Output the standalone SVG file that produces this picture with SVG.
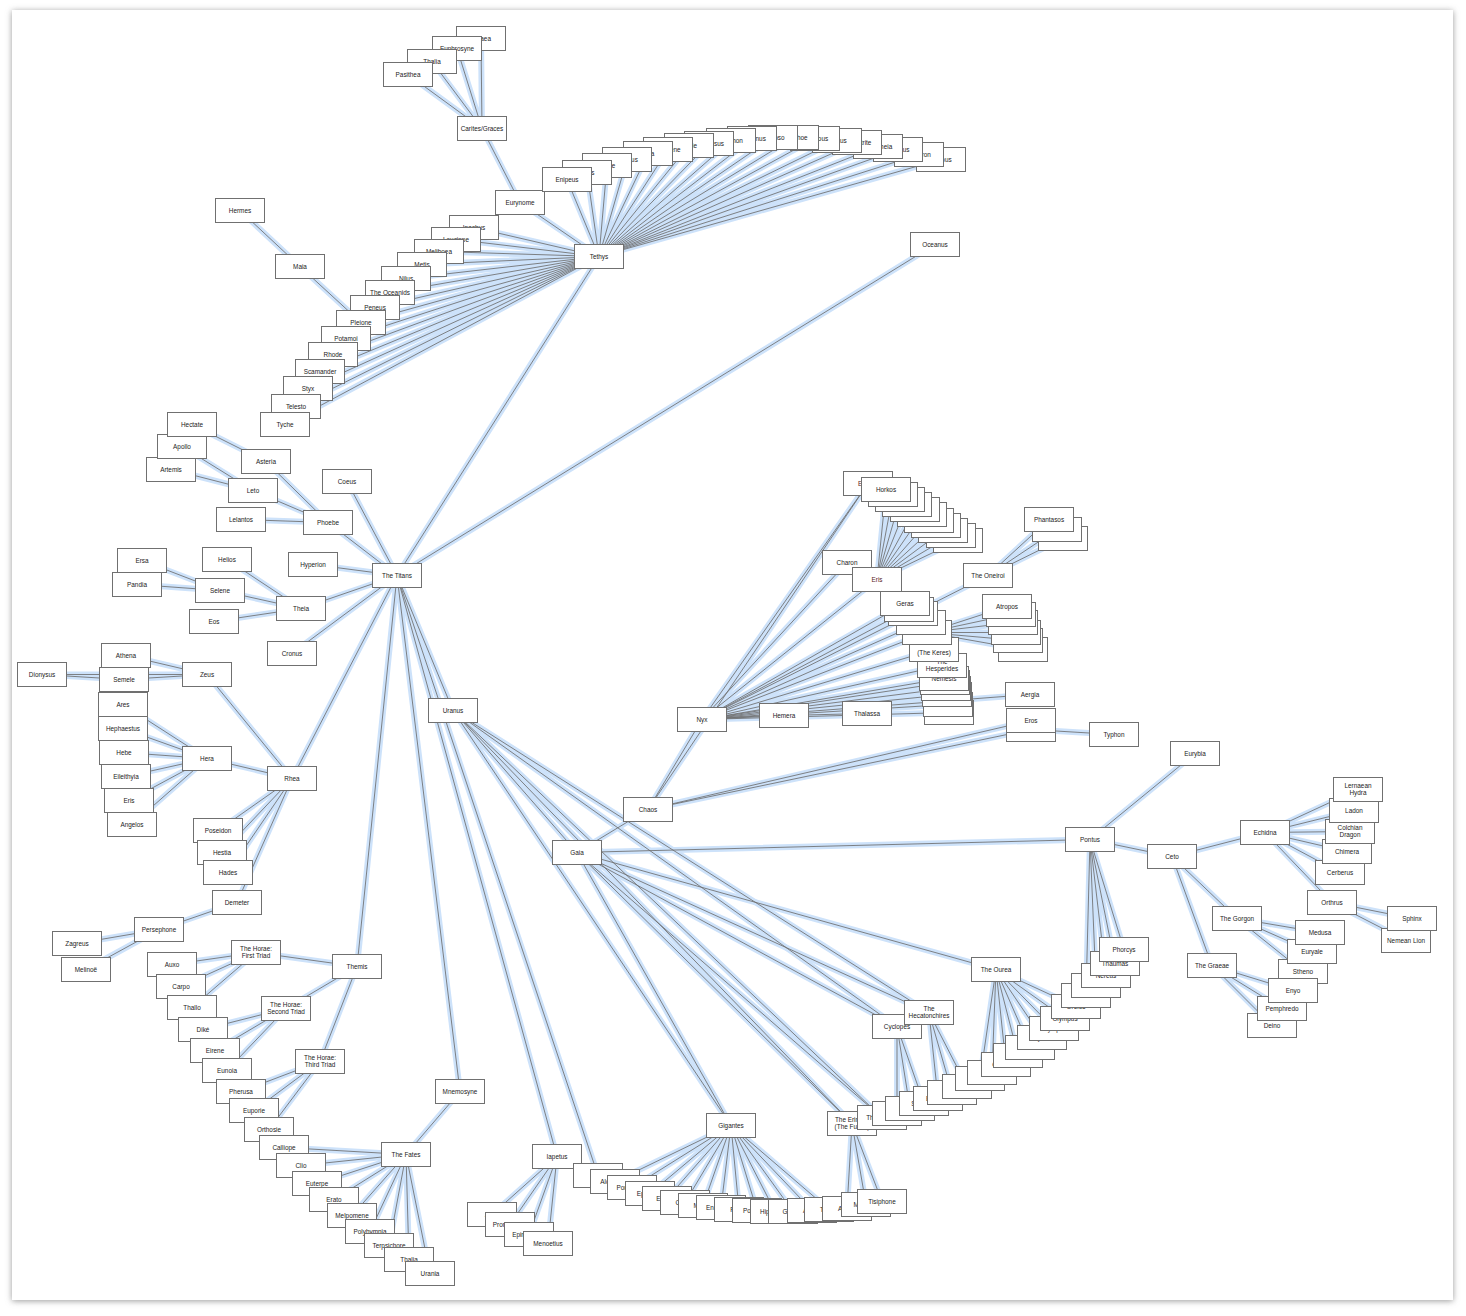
<svg xmlns="http://www.w3.org/2000/svg" xmlns:xlink="http://www.w3.org/1999/xlink" width="1466" height="1316" viewBox="0 0 1466 1316">
<style>
.n text{font-family:"Liberation Sans",Arial,sans-serif;font-size:6.4px;fill:#222;text-anchor:middle}
</style>
<defs>
<filter id="sh" x="-5%" y="-5%" width="110%" height="110%"><feGaussianBlur stdDeviation="3"/></filter>
<rect id="b" x="0.5" y="0.5" width="49" height="24" fill="#fff" stroke="#707070" stroke-width="1"/>
</defs>
<rect x="0" y="0" width="1466" height="1316" fill="#fff"/>
<rect x="12" y="11" width="1441" height="1290" fill="#9a9a9a" filter="url(#sh)"/>
<rect x="12" y="10" width="1441" height="1290" fill="#fff"/>

<g id="connectors" fill="none" stroke="#cde2fa" stroke-width="6" stroke-linecap="round">
<g id="L">
<path d="M482 128.5L481 38.5M482 128.5L457 48.5M482 128.5L432 61.5M482 128.5L408 74.5M482 128.5L520 202.5"/>
<path d="M520 202.5L599 256.5M240 210.5L300 266.5M300 266.5L361 322.5"/>
<path d="M599 256.5L567 179.5M599 256.5L587 172.5M599 256.5L607 165.5M599 256.5L627 159.5M599 256.5L648 153.5M599 256.5L668 149.5M599 256.5L689 145.5M599 256.5L709 143.5M599 256.5L731 140.5M599 256.5L752 138.5M599 256.5L773 137.5M599 256.5L794 137.5M599 256.5L815 138.5M599 256.5L837 140.5M599 256.5L857 142.5M599 256.5L878 146.5M599 256.5L898 149.5M599 256.5L919 154.5M599 256.5L941 159.5"/>
<path d="M599 256.5L474 227.5M599 256.5L456 239.5M599 256.5L439 251.5M599 256.5L422 264.5M599 256.5L406 278.5M599 256.5L390 292.5M599 256.5L375 307.5M599 256.5L361 322.5M599 256.5L346 338.5M599 256.5L333 354.5M599 256.5L320 371.5M599 256.5L308 388.5M599 256.5L296 406.5M599 256.5L285 424.5"/>
<path d="M599 256.5L397 575.5M935 244.5L397 575.5"/>
<path d="M397 575.5L347 481.5M397 575.5L328 522.5M397 575.5L313 564.5M397 575.5L301 608.5M397 575.5L292 653.5M397 575.5L292 778.5M397 575.5L357 966.5M397 575.5L460 1091.5M397 575.5L557 1156.5M397 575.5L598 1175.5M397 575.5L453 710.5"/>
<path d="M328 522.5L266 461.5M328 522.5L253 490.5M328 522.5L241 519.5M253 490.5L182 446.5M253 490.5L171 469.5M266 461.5L192 424.5"/>
<path d="M301 608.5L227 559.5M301 608.5L220 590.5M301 608.5L214 621.5M220 590.5L142 560.5M220 590.5L137 584.5"/>
<path d="M292 778.5L207 674.5M292 778.5L207 758.5M292 778.5L218 830.5M292 778.5L222 852.5M292 778.5L228 872.5M292 778.5L237 902.5"/>
<path d="M207 674.5L126 655.5M207 674.5L124 679.5M207 674.5L42 674.5M124 679.5L42 674.5"/>
<path d="M207 758.5L123 704.5M207 758.5L123 728.5M207 758.5L124 752.5M207 758.5L126 776.5M207 758.5L129 800.5M207 758.5L132 824.5"/>
<path d="M237 902.5L159 929.5M159 929.5L77 943.5M159 929.5L86 969.5"/>
<path d="M357 966.5L256 952.5M357 966.5L286 1008.5M357 966.5L320 1061.5M256 952.5L172 964.5M256 952.5L181 986.5M256 952.5L192 1007.5M286 1008.5L203 1029.5M286 1008.5L215 1050.5M286 1008.5L227 1070.5M320 1061.5L241 1091.5M320 1061.5L254 1110.5M320 1061.5L269 1129.5"/>
<path d="M460 1091.5L406 1154.5M406 1154.5L284 1147.5M406 1154.5L301 1165.5M406 1154.5L317 1183.5M406 1154.5L334 1199.5M406 1154.5L352 1215.5M406 1154.5L370 1231.5M406 1154.5L389 1245.5M406 1154.5L409 1259.5M406 1154.5L430 1273.5"/>
<path d="M557 1156.5L492 1214.5M557 1156.5L510 1224.5M557 1156.5L529 1234.5M557 1156.5L548 1243.5"/>
<path d="M731 1125.5L615 1181.5M731 1125.5L632 1187.5M731 1125.5L650 1193.5M731 1125.5L667 1198.5M731 1125.5L685 1202.5M731 1125.5L703 1205.5M731 1125.5L721 1207.5M731 1125.5L739 1209.5M731 1125.5L757 1210.5M731 1125.5L775 1211.5M731 1125.5L793 1211.5M731 1125.5L812 1210.5M731 1125.5L829 1209.5"/>
<path d="M852 1123.5L847 1208.5M852 1123.5L866 1204.5M852 1123.5L882 1201.5"/>
<path d="M453 710.5L577 852.5M453 710.5L897 1026.5M453 710.5L929 1012.5M453 710.5L852 1123.5M453 710.5L882 1117.5M453 710.5L731 1125.5"/>
<path d="M577 852.5L648 809.5M577 852.5L1090 839.5M577 852.5L996 969.5M577 852.5L897 1026.5M577 852.5L929 1012.5M577 852.5L852 1123.5M577 852.5L882 1117.5M577 852.5L731 1125.5"/>
<path d="M897 1026.5L924 1103.5M897 1026.5L910 1108.5M897 1026.5L897 1113.5M929 1012.5L967 1086.5M929 1012.5L952 1092.5M929 1012.5L938 1098.5"/>
<path d="M996 969.5L1076 1006.5M996 969.5L1065 1018.5M996 969.5L1054 1028.5M996 969.5L1042 1037.5M996 969.5L1030 1047.5M996 969.5L1018 1055.5M996 969.5L1006 1064.5M996 969.5L992 1072.5M996 969.5L980 1078.5"/>
<path d="M1090 839.5L1124 949.5M1090 839.5L1115 963.5M1090 839.5L1106 975.5M1090 839.5L1096 985.5M1090 839.5L1086 995.5M1090 839.5L1195 753.5M1090 839.5L1172 856.5"/>
<path d="M1172 856.5L1265 832.5M1172 856.5L1237 918.5M1172 856.5L1212 965.5"/>
<path d="M1265 832.5L1358 789.5M1265 832.5L1354 810.5M1265 832.5L1350 831.5M1265 832.5L1347 851.5M1265 832.5L1340 872.5M1265 832.5L1332 902.5M1332 902.5L1412 918.5M1332 902.5L1406 940.5"/>
<path d="M1237 918.5L1320 932.5M1237 918.5L1312 951.5M1237 918.5L1303 971.5M1212 965.5L1293 990.5M1212 965.5L1282 1008.5M1212 965.5L1272 1025.5"/>
<path d="M648 809.5L702 719.5M648 809.5L868 483.5M648 809.5L1031 720.5M648 809.5L1031 729.5M1031 729.5L1114 734.5"/>
<path d="M702 719.5L868 483.5M702 719.5L847 562.5M702 719.5L877 579.5M702 719.5L905 603.5M702 719.5L909 609.5M702 719.5L913 613.5M702 719.5L921 622.5M702 719.5L927 632.5M702 719.5L934 649.5M702 719.5L942 665.5M702 719.5L944 678.5M702 719.5L945 682.5M702 719.5L946 688.5M702 719.5L947 694.5M702 719.5L948 704.5M702 719.5L949 712.5M702 719.5L784 715.5M702 719.5L1030 694.5M784 715.5L867 713.5"/>
<path d="M877 579.5L886 489.5M877 579.5L893 494.5M877 579.5L900 499.5M877 579.5L907 504.5M877 579.5L915 509.5M877 579.5L922 514.5M877 579.5L929 520.5M877 579.5L936 525.5M877 579.5L943 530.5M877 579.5L951 535.5M877 579.5L958 540.5"/>
<path d="M927 632.5L1007 606.5M927 632.5L1011 614.5M927 632.5L1013 622.5M927 632.5L1016 632.5M927 632.5L1018 640.5M927 632.5L1023 649.5"/>
<path d="M988 575.5L1049 519.5M988 575.5L1057 529.5M988 575.5L1063 538.5M988 575.5L913 613.5"/>
</g>
<use xlink:href="#L" href="#L" stroke="#6e6e6e" stroke-width="0.85"/>
</g>

<g id="nodes">
<g id="n-aglaea" class="n" transform="translate(456 26)"><use href="#b" xlink:href="#b"/><text x="25" y="14.8">Aglaea</text></g>
<g id="n-euphrosyne" class="n" transform="translate(432 36)"><use href="#b" xlink:href="#b"/><text x="25" y="14.8">Euphrosyne</text></g>
<g id="n-thalia-grace" class="n" transform="translate(407 49)"><use href="#b" xlink:href="#b"/><text x="25" y="14.8">Thalia</text></g>
<g id="n-pasithea" class="n" transform="translate(383 62)"><use href="#b" xlink:href="#b"/><text x="25" y="14.8">Pasithea</text></g>
<g id="n-charites" class="n" transform="translate(457 116)"><use href="#b" xlink:href="#b"/><text x="25" y="14.8">Carites/Graces</text></g>
<g id="n-eurynome" class="n" transform="translate(495 190)"><use href="#b" xlink:href="#b"/><text x="25" y="14.8">Eurynome</text></g>
<g id="n-hermes" class="n" transform="translate(215 198)"><use href="#b" xlink:href="#b"/><text x="25" y="14.8">Hermes</text></g>
<g id="n-maia" class="n" transform="translate(275 254)"><use href="#b" xlink:href="#b"/><text x="25" y="14.8">Maia</text></g>
<g id="n-tethys" class="n" transform="translate(574 244)"><use href="#b" xlink:href="#b"/><text x="25" y="14.8">Tethys</text></g>
<g id="n-oceanus" class="n" transform="translate(910 232)"><use href="#b" xlink:href="#b"/><text x="25" y="14.8">Oceanus</text></g>

<g id="n-asopus" class="n" transform="translate(916 147)"><use href="#b" xlink:href="#b"/><text x="25" y="14.8">Asopus</text></g>
<g id="n-acheron" class="n" transform="translate(894 142)"><use href="#b" xlink:href="#b"/><text x="25" y="14.8">Acheron</text></g>
<g id="n-alpheus" class="n" transform="translate(873 137)"><use href="#b" xlink:href="#b"/><text x="25" y="14.8">Alpheus</text></g>
<g id="n-amaltheia" class="n" transform="translate(853 134)"><use href="#b" xlink:href="#b"/><text x="25" y="14.8">Amaltheia</text></g>
<g id="n-amphitrite" class="n" transform="translate(832 130)"><use href="#b" xlink:href="#b"/><text x="25" y="14.8">Amphitrite</text></g>
<g id="n-caicus" class="n" transform="translate(812 128)"><use href="#b" xlink:href="#b"/><text x="25" y="14.8">Caicus</text></g>
<g id="n-achelous" class="n" transform="translate(790 126)"><use href="#b" xlink:href="#b"/><text x="25" y="14.8">Achelous</text></g>
<g id="n-callirrhoe" class="n" transform="translate(769 125)"><use href="#b" xlink:href="#b"/><text x="25" y="14.8">Callirrhoe</text></g>
<g id="n-calypso" class="n" transform="translate(748 125)"><use href="#b" xlink:href="#b"/><text x="25" y="14.8">Calypso</text></g>
<g id="n-cebrenus" class="n" transform="translate(727 126)"><use href="#b" xlink:href="#b"/><text x="25" y="14.8">Cebrenus</text></g>
<g id="n-strymon" class="n" transform="translate(706 128)"><use href="#b" xlink:href="#b"/><text x="25" y="14.8">Strymon</text></g>
<g id="n-cephissus" class="n" transform="translate(684 131)"><use href="#b" xlink:href="#b"/><text x="25" y="14.8">Cephissus</text></g>
<g id="n-clytie" class="n" transform="translate(664 133)"><use href="#b" xlink:href="#b"/><text x="25" y="14.8">Clytie</text></g>
<g id="n-clymene" class="n" transform="translate(643 137)"><use href="#b" xlink:href="#b"/><text x="25" y="14.8">Clymene</text></g>
<g id="n-asia" class="n" transform="translate(623 141)"><use href="#b" xlink:href="#b"/><text x="25" y="14.8">Asia</text></g>
<g id="n-cydnus" class="n" transform="translate(602 147)"><use href="#b" xlink:href="#b"/><text x="25" y="14.8">Cydnus</text></g>
<g id="n-dione" class="n" transform="translate(582 153)"><use href="#b" xlink:href="#b"/><text x="25" y="14.8">Dione</text></g>
<g id="n-doris" class="n" transform="translate(562 160)"><use href="#b" xlink:href="#b"/><text x="25" y="14.8">Doris</text></g>
<g id="n-enipeus" class="n" transform="translate(542 167)"><use href="#b" xlink:href="#b"/><text x="25" y="14.8">Enipeus</text></g>

<g id="n-inachus" class="n" transform="translate(449 215)"><use href="#b" xlink:href="#b"/><text x="25" y="14.8">Inachus</text></g>
<g id="n-leucippe" class="n" transform="translate(431 227)"><use href="#b" xlink:href="#b"/><text x="25" y="14.8">Leucippe</text></g>
<g id="n-meliboea" class="n" transform="translate(414 239)"><use href="#b" xlink:href="#b"/><text x="25" y="14.8">Meliboea</text></g>
<g id="n-metis" class="n" transform="translate(397 252)"><use href="#b" xlink:href="#b"/><text x="25" y="14.8">Metis</text></g>
<g id="n-nilus" class="n" transform="translate(381 266)"><use href="#b" xlink:href="#b"/><text x="25" y="14.8">Nilus</text></g>
<g id="n-oceanids" class="n" transform="translate(365 280)"><use href="#b" xlink:href="#b"/><text x="25" y="14.8">The Oceanids</text></g>
<g id="n-peneus" class="n" transform="translate(350 295)"><use href="#b" xlink:href="#b"/><text x="25" y="14.8">Peneus</text></g>
<g id="n-pleione" class="n" transform="translate(336 310)"><use href="#b" xlink:href="#b"/><text x="25" y="14.8">Pleione</text></g>
<g id="n-potamoi" class="n" transform="translate(321 326)"><use href="#b" xlink:href="#b"/><text x="25" y="14.8">Potamoi</text></g>
<g id="n-rhode" class="n" transform="translate(308 342)"><use href="#b" xlink:href="#b"/><text x="25" y="14.8">Rhode</text></g>
<g id="n-scamander" class="n" transform="translate(295 359)"><use href="#b" xlink:href="#b"/><text x="25" y="14.8">Scamander</text></g>
<g id="n-styx" class="n" transform="translate(283 376)"><use href="#b" xlink:href="#b"/><text x="25" y="14.8">Styx</text></g>
<g id="n-telesto" class="n" transform="translate(271 394)"><use href="#b" xlink:href="#b"/><text x="25" y="14.8">Telesto</text></g>
<g id="n-tyche" class="n" transform="translate(260 412)"><use href="#b" xlink:href="#b"/><text x="25" y="14.8">Tyche</text></g>

<g id="n-artemis" class="n" transform="translate(146 457)"><use href="#b" xlink:href="#b"/><text x="25" y="14.8">Artemis</text></g>
<g id="n-apollo" class="n" transform="translate(157 434)"><use href="#b" xlink:href="#b"/><text x="25" y="14.8">Apollo</text></g>
<g id="n-hectate" class="n" transform="translate(167 412)"><use href="#b" xlink:href="#b"/><text x="25" y="14.8">Hectate</text></g>
<g id="n-asteria" class="n" transform="translate(241 449)"><use href="#b" xlink:href="#b"/><text x="25" y="14.8">Asteria</text></g>
<g id="n-leto" class="n" transform="translate(228 478)"><use href="#b" xlink:href="#b"/><text x="25" y="14.8">Leto</text></g>
<g id="n-coeus" class="n" transform="translate(322 469)"><use href="#b" xlink:href="#b"/><text x="25" y="14.8">Coeus</text></g>
<g id="n-lelantos" class="n" transform="translate(216 507)"><use href="#b" xlink:href="#b"/><text x="25" y="14.8">Lelantos</text></g>
<g id="n-phoebe" class="n" transform="translate(303 510)"><use href="#b" xlink:href="#b"/><text x="25" y="14.8">Phoebe</text></g>
<g id="n-erse" class="n" transform="translate(117 548)"><use href="#b" xlink:href="#b"/><text x="25" y="14.8">Ersa</text></g>
<g id="n-pandia" class="n" transform="translate(112 572)"><use href="#b" xlink:href="#b"/><text x="25" y="14.8">Pandia</text></g>
<g id="n-helios" class="n" transform="translate(202 547)"><use href="#b" xlink:href="#b"/><text x="25" y="14.8">Helios</text></g>
<g id="n-hyperion" class="n" transform="translate(288 552)"><use href="#b" xlink:href="#b"/><text x="25" y="14.8">Hyperion</text></g>
<g id="n-titans" class="n" transform="translate(372 563)"><use href="#b" xlink:href="#b"/><text x="25" y="14.8">The Titans</text></g>
<g id="n-selene" class="n" transform="translate(195 578)"><use href="#b" xlink:href="#b"/><text x="25" y="14.8">Selene</text></g>
<g id="n-theia" class="n" transform="translate(276 596)"><use href="#b" xlink:href="#b"/><text x="25" y="14.8">Theia</text></g>
<g id="n-eos" class="n" transform="translate(189 609)"><use href="#b" xlink:href="#b"/><text x="25" y="14.8">Eos</text></g>
<g id="n-cronus" class="n" transform="translate(267 641)"><use href="#b" xlink:href="#b"/><text x="25" y="14.8">Cronus</text></g>

<g id="n-dionysus" class="n" transform="translate(17 662)"><use href="#b" xlink:href="#b"/><text x="25" y="14.8">Dionysus</text></g>
<g id="n-athena" class="n" transform="translate(101 643)"><use href="#b" xlink:href="#b"/><text x="25" y="14.8">Athena</text></g>
<g id="n-semele" class="n" transform="translate(99 667)"><use href="#b" xlink:href="#b"/><text x="25" y="14.8">Semele</text></g>
<g id="n-zeus" class="n" transform="translate(182 662)"><use href="#b" xlink:href="#b"/><text x="25" y="14.8">Zeus</text></g>
<g id="n-ares" class="n" transform="translate(98 692)"><use href="#b" xlink:href="#b"/><text x="25" y="14.8">Ares</text></g>
<g id="n-hephaestus" class="n" transform="translate(98 716)"><use href="#b" xlink:href="#b"/><text x="25" y="14.8">Hephaestus</text></g>
<g id="n-hebe" class="n" transform="translate(99 740)"><use href="#b" xlink:href="#b"/><text x="25" y="14.8">Hebe</text></g>
<g id="n-eileithyia" class="n" transform="translate(101 764)"><use href="#b" xlink:href="#b"/><text x="25" y="14.8">Eileithyia</text></g>
<g id="n-eris-hera" class="n" transform="translate(104 788)"><use href="#b" xlink:href="#b"/><text x="25" y="14.8">Eris</text></g>
<g id="n-angelos" class="n" transform="translate(107 812)"><use href="#b" xlink:href="#b"/><text x="25" y="14.8">Angelos</text></g>
<g id="n-hera" class="n" transform="translate(182 746)"><use href="#b" xlink:href="#b"/><text x="25" y="14.8">Hera</text></g>
<g id="n-rhea" class="n" transform="translate(267 766)"><use href="#b" xlink:href="#b"/><text x="25" y="14.8">Rhea</text></g>
<g id="n-poseidon" class="n" transform="translate(193 818)"><use href="#b" xlink:href="#b"/><text x="25" y="14.8">Poseidon</text></g>
<g id="n-hestia" class="n" transform="translate(197 840)"><use href="#b" xlink:href="#b"/><text x="25" y="14.8">Hestia</text></g>
<g id="n-hades" class="n" transform="translate(203 860)"><use href="#b" xlink:href="#b"/><text x="25" y="14.8">Hades</text></g>
<g id="n-demeter" class="n" transform="translate(212 890)"><use href="#b" xlink:href="#b"/><text x="25" y="14.8">Demeter</text></g>
<g id="n-persephone" class="n" transform="translate(134 917)"><use href="#b" xlink:href="#b"/><text x="25" y="14.8">Persephone</text></g>
<g id="n-zagreus" class="n" transform="translate(52 931)"><use href="#b" xlink:href="#b"/><text x="25" y="14.8">Zagreus</text></g>
<g id="n-melinoe" class="n" transform="translate(61 957)"><use href="#b" xlink:href="#b"/><text x="25" y="14.8">Melinoë</text></g>

<g id="n-horae1" class="n" transform="translate(231 940)"><use href="#b" xlink:href="#b"/><text x="25" y="10.5">The Horae:<tspan x="25" dy="7.6">First Triad</tspan></text></g>
<g id="n-auxo" class="n" transform="translate(147 952)"><use href="#b" xlink:href="#b"/><text x="25" y="14.8">Auxo</text></g>
<g id="n-carpo" class="n" transform="translate(156 974)"><use href="#b" xlink:href="#b"/><text x="25" y="14.8">Carpo</text></g>
<g id="n-thallo" class="n" transform="translate(167 995)"><use href="#b" xlink:href="#b"/><text x="25" y="14.8">Thallo</text></g>
<g id="n-themis" class="n" transform="translate(332 954)"><use href="#b" xlink:href="#b"/><text x="25" y="14.8">Themis</text></g>
<g id="n-horae2" class="n" transform="translate(261 996)"><use href="#b" xlink:href="#b"/><text x="25" y="10.5">The Horae:<tspan x="25" dy="7.6">Second Triad</tspan></text></g>
<g id="n-dike" class="n" transform="translate(178 1017)"><use href="#b" xlink:href="#b"/><text x="25" y="14.8">Diké</text></g>
<g id="n-eirene" class="n" transform="translate(190 1038)"><use href="#b" xlink:href="#b"/><text x="25" y="14.8">Eirene</text></g>
<g id="n-eunoia" class="n" transform="translate(202 1058)"><use href="#b" xlink:href="#b"/><text x="25" y="14.8">Eunoia</text></g>
<g id="n-horae3" class="n" transform="translate(295 1049)"><use href="#b" xlink:href="#b"/><text x="25" y="10.5">The Horae:<tspan x="25" dy="7.6">Third Triad</tspan></text></g>
<g id="n-pherusa" class="n" transform="translate(216 1079)"><use href="#b" xlink:href="#b"/><text x="25" y="14.8">Pherusa</text></g>
<g id="n-euporie" class="n" transform="translate(229 1098)"><use href="#b" xlink:href="#b"/><text x="25" y="14.8">Euporie</text></g>
<g id="n-orthosie" class="n" transform="translate(244 1117)"><use href="#b" xlink:href="#b"/><text x="25" y="14.8">Orthosie</text></g>
<g id="n-calliope" class="n" transform="translate(259 1135)"><use href="#b" xlink:href="#b"/><text x="25" y="14.8">Calliope</text></g>
<g id="n-fates" class="n" transform="translate(381 1142)"><use href="#b" xlink:href="#b"/><text x="25" y="14.8">The Fates</text></g>
<g id="n-clio" class="n" transform="translate(276 1153)"><use href="#b" xlink:href="#b"/><text x="25" y="14.8">Clio</text></g>
<g id="n-euterpe" class="n" transform="translate(292 1171)"><use href="#b" xlink:href="#b"/><text x="25" y="14.8">Euterpe</text></g>
<g id="n-erato" class="n" transform="translate(309 1187)"><use href="#b" xlink:href="#b"/><text x="25" y="14.8">Erato</text></g>
<g id="n-melpomene" class="n" transform="translate(327 1203)"><use href="#b" xlink:href="#b"/><text x="25" y="14.8">Melpomene</text></g>
<g id="n-polyhymnia" class="n" transform="translate(345 1219)"><use href="#b" xlink:href="#b"/><text x="25" y="14.8">Polyhymnia</text></g>
<g id="n-terpsichore" class="n" transform="translate(364 1233)"><use href="#b" xlink:href="#b"/><text x="25" y="14.8">Terpsichore</text></g>
<g id="n-thalia-muse" class="n" transform="translate(384 1247)"><use href="#b" xlink:href="#b"/><text x="25" y="14.8">Thalia</text></g>
<g id="n-urania" class="n" transform="translate(405 1261)"><use href="#b" xlink:href="#b"/><text x="25" y="14.8">Urania</text></g>
<g id="n-mnemosyne" class="n" transform="translate(435 1079)"><use href="#b" xlink:href="#b"/><text x="25" y="14.8">Mnemosyne</text></g>

<g id="n-uranus" class="n" transform="translate(428 698)"><use href="#b" xlink:href="#b"/><text x="25" y="14.8">Uranus</text></g>
<g id="n-iapetus" class="n" transform="translate(532 1144)"><use href="#b" xlink:href="#b"/><text x="25" y="14.8">Iapetus</text></g>
<g id="n-atlas" class="n" transform="translate(467 1202)"><use href="#b" xlink:href="#b"/><text x="25" y="14.8">Atlas</text></g>
<g id="n-prometheus" class="n" transform="translate(485 1212)"><use href="#b" xlink:href="#b"/><text x="25" y="14.8">Prometheus</text></g>
<g id="n-epimetheus" class="n" transform="translate(504 1222)"><use href="#b" xlink:href="#b"/><text x="25" y="14.8">Epimetheus</text></g>
<g id="n-menoetius" class="n" transform="translate(523 1231)"><use href="#b" xlink:href="#b"/><text x="25" y="14.8">Menoetius</text></g>
<g id="n-crius" class="n" transform="translate(573 1163)"><use href="#b" xlink:href="#b"/><text x="25" y="14.8">Crius</text></g>
<g id="n-alcyoneus" class="n" transform="translate(590 1169)"><use href="#b" xlink:href="#b"/><text x="25" y="14.8">Alcyoneus</text></g>
<g id="n-porphyrion" class="n" transform="translate(607 1175)"><use href="#b" xlink:href="#b"/><text x="25" y="14.8">Porphyrion</text></g>
<g id="n-ephialtes" class="n" transform="translate(625 1181)"><use href="#b" xlink:href="#b"/><text x="25" y="14.8">Ephialtes</text></g>
<g id="n-eurytus" class="n" transform="translate(642 1186)"><use href="#b" xlink:href="#b"/><text x="25" y="14.8">Eurytus</text></g>
<g id="n-clytius" class="n" transform="translate(660 1190)"><use href="#b" xlink:href="#b"/><text x="25" y="14.8">Clytius</text></g>
<g id="n-mimas" class="n" transform="translate(678 1193)"><use href="#b" xlink:href="#b"/><text x="25" y="14.8">Mimas</text></g>
<g id="n-enceladus" class="n" transform="translate(696 1195)"><use href="#b" xlink:href="#b"/><text x="25" y="14.8">Enceladus</text></g>
<g id="n-pallas" class="n" transform="translate(714 1197)"><use href="#b" xlink:href="#b"/><text x="25" y="14.8">Pallas</text></g>
<g id="n-polybotes" class="n" transform="translate(732 1198)"><use href="#b" xlink:href="#b"/><text x="25" y="14.8">Polybotes</text></g>
<g id="n-hippolytus" class="n" transform="translate(750 1199)"><use href="#b" xlink:href="#b"/><text x="25" y="14.8">Hippolytus</text></g>
<g id="n-gration" class="n" transform="translate(768 1199)"><use href="#b" xlink:href="#b"/><text x="25" y="14.8">Gration</text></g>
<g id="n-agrius" class="n" transform="translate(787 1198)"><use href="#b" xlink:href="#b"/><text x="25" y="14.8">Agrius</text></g>
<g id="n-thoon" class="n" transform="translate(804 1197)"><use href="#b" xlink:href="#b"/><text x="25" y="14.8">Thoon</text></g>
<g id="n-alecto" class="n" transform="translate(822 1196)"><use href="#b" xlink:href="#b"/><text x="25" y="14.8">Alecto</text></g>
<g id="n-megaera" class="n" transform="translate(841 1192)"><use href="#b" xlink:href="#b"/><text x="25" y="14.8">Megaera</text></g>
<g id="n-tisiphone" class="n" transform="translate(857 1189)"><use href="#b" xlink:href="#b"/><text x="25" y="14.8">Tisiphone</text></g>
<g id="n-gigantes" class="n" transform="translate(706 1113)"><use href="#b" xlink:href="#b"/><text x="25" y="14.8">Gigantes</text></g>

<g id="n-erinyes" class="n" transform="translate(827 1111)"><use href="#b" xlink:href="#b"/><text x="25" y="10.5">The Erinyes<tspan x="25" dy="7.6">(The Furies)</tspan></text></g>
<g id="n-meliae" class="n" transform="translate(857 1105)"><use href="#b" xlink:href="#b"/><text x="25" y="14.8">The Meliae</text></g>
<g id="n-arges" class="n" transform="translate(872 1101)"><use href="#b" xlink:href="#b"/><text x="25" y="14.8">Arges</text></g>
<g id="n-brontes" class="n" transform="translate(885 1096)"><use href="#b" xlink:href="#b"/><text x="25" y="14.8">Brontes</text></g>
<g id="n-steropes" class="n" transform="translate(899 1091)"><use href="#b" xlink:href="#b"/><text x="25" y="14.8">Steropes</text></g>
<g id="n-briareus" class="n" transform="translate(913 1086)"><use href="#b" xlink:href="#b"/><text x="25" y="14.8">Briareus</text></g>
<g id="n-cottus" class="n" transform="translate(927 1080)"><use href="#b" xlink:href="#b"/><text x="25" y="14.8">Cottus</text></g>
<g id="n-gyges" class="n" transform="translate(942 1074)"><use href="#b" xlink:href="#b"/><text x="25" y="14.8">Gyges</text></g>
<g id="n-aetna" class="n" transform="translate(955 1066)"><use href="#b" xlink:href="#b"/><text x="25" y="14.8">Aetna</text></g>
<g id="n-athos" class="n" transform="translate(967 1060)"><use href="#b" xlink:href="#b"/><text x="25" y="14.8">Athos</text></g>
<g id="n-cithaeron" class="n" transform="translate(981 1052)"><use href="#b" xlink:href="#b"/><text x="25" y="14.8">Cithaeron</text></g>
<g id="n-helicon" class="n" transform="translate(993 1043)"><use href="#b" xlink:href="#b"/><text x="25" y="14.8">Helicon</text></g>
<g id="n-ida" class="n" transform="translate(1005 1035)"><use href="#b" xlink:href="#b"/><text x="25" y="14.8">Ida</text></g>
<g id="n-nysos" class="n" transform="translate(1017 1025)"><use href="#b" xlink:href="#b"/><text x="25" y="14.8">Nysos</text></g>
<g id="n-olympus2" class="n" transform="translate(1029 1016)"><use href="#b" xlink:href="#b"/><text x="25" y="14.8">Olympus</text></g>
<g id="n-olympus1" class="n" transform="translate(1040 1006)"><use href="#b" xlink:href="#b"/><text x="25" y="14.8">Olympus</text></g>
<g id="n-oreios" class="n" transform="translate(1051 994)"><use href="#b" xlink:href="#b"/><text x="25" y="14.8">Oreios</text></g>
<g id="n-parnes" class="n" transform="translate(1061 983)"><use href="#b" xlink:href="#b"/><text x="25" y="14.8">Parnes</text></g>
<g id="n-tmolus" class="n" transform="translate(1071 973)"><use href="#b" xlink:href="#b"/><text x="25" y="14.8">Tmolus</text></g>
<g id="n-nereus" class="n" transform="translate(1081 963)"><use href="#b" xlink:href="#b"/><text x="25" y="14.8">Nereus</text></g>
<g id="n-thaumas" class="n" transform="translate(1090 951)"><use href="#b" xlink:href="#b"/><text x="25" y="14.8">Thaumas</text></g>
<g id="n-phorcys" class="n" transform="translate(1099 937)"><use href="#b" xlink:href="#b"/><text x="25" y="14.8">Phorcys</text></g>
<g id="n-cyclopes" class="n" transform="translate(872 1014)"><use href="#b" xlink:href="#b"/><text x="25" y="14.8">Cyclopes</text></g>
<g id="n-hecatonchires" class="n" transform="translate(904 1000)"><use href="#b" xlink:href="#b"/><text x="25" y="10.5">The<tspan x="25" dy="7.6">Hecatonchires</tspan></text></g>
<g id="n-ourea" class="n" transform="translate(971 957)"><use href="#b" xlink:href="#b"/><text x="25" y="14.8">The Ourea</text></g>

<g id="n-erebus" class="n" transform="translate(843 471)"><use href="#b" xlink:href="#b"/><text x="25" y="14.8" style="fill:#5a1a1a">Erebus</text></g>
<g id="n-eris-c10" class="n" transform="translate(933 528)"><use href="#b" xlink:href="#b"/></g>
<g id="n-eris-c9" class="n" transform="translate(926 523)"><use href="#b" xlink:href="#b"/></g>
<g id="n-eris-c8" class="n" transform="translate(918 518)"><use href="#b" xlink:href="#b"/></g>
<g id="n-eris-c7" class="n" transform="translate(911 513)"><use href="#b" xlink:href="#b"/></g>
<g id="n-eris-c6" class="n" transform="translate(904 508)"><use href="#b" xlink:href="#b"/></g>
<g id="n-eris-c5" class="n" transform="translate(897 502)"><use href="#b" xlink:href="#b"/></g>
<g id="n-eris-c4" class="n" transform="translate(890 497)"><use href="#b" xlink:href="#b"/></g>
<g id="n-eris-c3" class="n" transform="translate(882 492)"><use href="#b" xlink:href="#b"/></g>
<g id="n-eris-c2" class="n" transform="translate(875 487)"><use href="#b" xlink:href="#b"/></g>
<g id="n-eris-c1" class="n" transform="translate(868 482)"><use href="#b" xlink:href="#b"/></g>
<g id="n-horkos" class="n" transform="translate(861 477)"><use href="#b" xlink:href="#b"/><text x="25" y="14.8">Horkos</text></g>
<g id="n-charon" class="n" transform="translate(822 550)"><use href="#b" xlink:href="#b"/><text x="25" y="14.8">Charon</text></g>
<g id="n-eris" class="n" transform="translate(852 567)"><use href="#b" xlink:href="#b"/><text x="25" y="14.8" style="fill:#5a1a1a">Eris</text></g>

<g id="n-nyx-c13" class="n" transform="translate(924 700)"><use href="#b" xlink:href="#b"/></g>
<g id="n-moros" class="n" transform="translate(923 692)"><use href="#b" xlink:href="#b"/><text x="25" y="14.8">Moros</text></g>
<g id="n-nyx-c11" class="n" transform="translate(922 682)"><use href="#b" xlink:href="#b"/></g>
<g id="n-nyx-c10" class="n" transform="translate(921 676)"><use href="#b" xlink:href="#b"/></g>
<g id="n-nyx-c9" class="n" transform="translate(920 670)"><use href="#b" xlink:href="#b"/></g>
<g id="n-nemesis" class="n" transform="translate(919 666)"><use href="#b" xlink:href="#b"/><text x="25" y="14.8">Nemesis</text></g>
<g id="n-hesperides" class="n" transform="translate(917 653)"><use href="#b" xlink:href="#b"/><text x="25" y="10.5">The<tspan x="25" dy="7.6">Hesperides</tspan></text></g>
<g id="n-keres" class="n" transform="translate(909 637)"><use href="#b" xlink:href="#b"/><text x="25" y="18.1">(The Keres)</text></g>
<g id="n-moirai" class="n" transform="translate(902 620)"><use href="#b" xlink:href="#b"/><text x="25" y="14.8">Moirai</text></g>
<g id="n-nyx-c4" class="n" transform="translate(896 610)"><use href="#b" xlink:href="#b"/></g>
<g id="n-hypnos" class="n" transform="translate(888 601)"><use href="#b" xlink:href="#b"/></g>
<g id="n-nyx-c2" class="n" transform="translate(884 597)"><use href="#b" xlink:href="#b"/></g>
<g id="n-geras" class="n" transform="translate(880 591)"><use href="#b" xlink:href="#b"/><text x="25" y="14.8">Geras</text></g>

<g id="n-moira5" class="n" transform="translate(998 637)"><use href="#b" xlink:href="#b"/></g>
<g id="n-moira4" class="n" transform="translate(993 628)"><use href="#b" xlink:href="#b"/></g>
<g id="n-moira3" class="n" transform="translate(991 620)"><use href="#b" xlink:href="#b"/></g>
<g id="n-moira2" class="n" transform="translate(988 610)"><use href="#b" xlink:href="#b"/></g>
<g id="n-moira1" class="n" transform="translate(986 602)"><use href="#b" xlink:href="#b"/></g>
<g id="n-atropos" class="n" transform="translate(982 594)"><use href="#b" xlink:href="#b"/><text x="25" y="14.8">Atropos</text></g>
<g id="n-oneiroi" class="n" transform="translate(963 563)"><use href="#b" xlink:href="#b"/><text x="25" y="14.8">The Oneiroi</text></g>
<g id="n-phobetor" class="n" transform="translate(1038 526)"><use href="#b" xlink:href="#b"/></g>
<g id="n-morpheus" class="n" transform="translate(1032 517)"><use href="#b" xlink:href="#b"/></g>
<g id="n-phantasos" class="n" transform="translate(1024 507)"><use href="#b" xlink:href="#b"/><text x="25" y="14.8">Phantasos</text></g>
<g id="n-aergia" class="n" transform="translate(1005 682)"><use href="#b" xlink:href="#b"/><text x="25" y="14.8">Aergia</text></g>
<g id="n-tartarus" class="n" transform="translate(1006 717)"><use href="#b" xlink:href="#b"/></g>
<g id="n-eros" class="n" transform="translate(1006 708)"><use href="#b" xlink:href="#b"/><text x="25" y="14.8">Eros</text></g>
<g id="n-typhon" class="n" transform="translate(1089 722)"><use href="#b" xlink:href="#b"/><text x="25" y="14.8">Typhon</text></g>
<g id="n-nyx" class="n" transform="translate(677 707)"><use href="#b" xlink:href="#b"/><text x="25" y="14.8">Nyx</text></g>
<g id="n-hemera" class="n" transform="translate(759 703)"><use href="#b" xlink:href="#b"/><text x="25" y="14.8">Hemera</text></g>
<g id="n-thalassa" class="n" transform="translate(842 701)"><use href="#b" xlink:href="#b"/><text x="25" y="14.8">Thalassa</text></g>
<g id="n-chaos" class="n" transform="translate(623 797)"><use href="#b" xlink:href="#b"/><text x="25" y="14.8">Chaos</text></g>
<g id="n-gaia" class="n" transform="translate(552 840)"><use href="#b" xlink:href="#b"/><text x="25" y="14.8">Gaia</text></g>

<g id="n-eurybia" class="n" transform="translate(1170 741)"><use href="#b" xlink:href="#b"/><text x="25" y="14.8">Eurybia</text></g>
<g id="n-pontus" class="n" transform="translate(1065 827)"><use href="#b" xlink:href="#b"/><text x="25" y="14.8">Pontus</text></g>
<g id="n-ceto" class="n" transform="translate(1147 844)"><use href="#b" xlink:href="#b"/><text x="25" y="14.8">Ceto</text></g>
<g id="n-echidna" class="n" transform="translate(1240 820)"><use href="#b" xlink:href="#b"/><text x="25" y="14.8">Echidna</text></g>
<g id="n-cerberus" class="n" transform="translate(1315 860)"><use href="#b" xlink:href="#b"/><text x="25" y="14.8">Cerberus</text></g>
<g id="n-chimera" class="n" transform="translate(1322 839)"><use href="#b" xlink:href="#b"/><text x="25" y="14.8">Chimera</text></g>
<g id="n-colchian" class="n" transform="translate(1325 819)"><use href="#b" xlink:href="#b"/><text x="25" y="10.5">Colchian<tspan x="25" dy="7.6">Dragon</tspan></text></g>
<g id="n-ladon" class="n" transform="translate(1329 798)"><use href="#b" xlink:href="#b"/><text x="25" y="14.8">Ladon</text></g>
<g id="n-hydra" class="n" transform="translate(1333 777)"><use href="#b" xlink:href="#b"/><text x="25" y="10.5">Lernaean<tspan x="25" dy="7.6">Hydra</tspan></text></g>
<g id="n-orthrus" class="n" transform="translate(1307 890)"><use href="#b" xlink:href="#b"/><text x="25" y="14.8">Orthrus</text></g>
<g id="n-nemean" class="n" transform="translate(1381 928)"><use href="#b" xlink:href="#b"/><text x="25" y="14.8">Nemean Lion</text></g>
<g id="n-sphinx" class="n" transform="translate(1387 906)"><use href="#b" xlink:href="#b"/><text x="25" y="14.8">Sphinx</text></g>
<g id="n-gorgon" class="n" transform="translate(1212 906)"><use href="#b" xlink:href="#b"/><text x="25" y="14.8">The Gorgon</text></g>
<g id="n-stheno" class="n" transform="translate(1278 959)"><use href="#b" xlink:href="#b"/><text x="25" y="14.8">Stheno</text></g>
<g id="n-euryale" class="n" transform="translate(1287 939)"><use href="#b" xlink:href="#b"/><text x="25" y="14.8">Euryale</text></g>
<g id="n-medusa" class="n" transform="translate(1295 920)"><use href="#b" xlink:href="#b"/><text x="25" y="14.8">Medusa</text></g>
<g id="n-graeae" class="n" transform="translate(1187 953)"><use href="#b" xlink:href="#b"/><text x="25" y="14.8">The Graeae</text></g>
<g id="n-deino" class="n" transform="translate(1247 1013)"><use href="#b" xlink:href="#b"/><text x="25" y="14.8">Deino</text></g>
<g id="n-pemphredo" class="n" transform="translate(1257 996)"><use href="#b" xlink:href="#b"/><text x="25" y="14.8">Pemphredo</text></g>
<g id="n-enyo" class="n" transform="translate(1268 978)"><use href="#b" xlink:href="#b"/><text x="25" y="14.8">Enyo</text></g>
</g>
</svg>
